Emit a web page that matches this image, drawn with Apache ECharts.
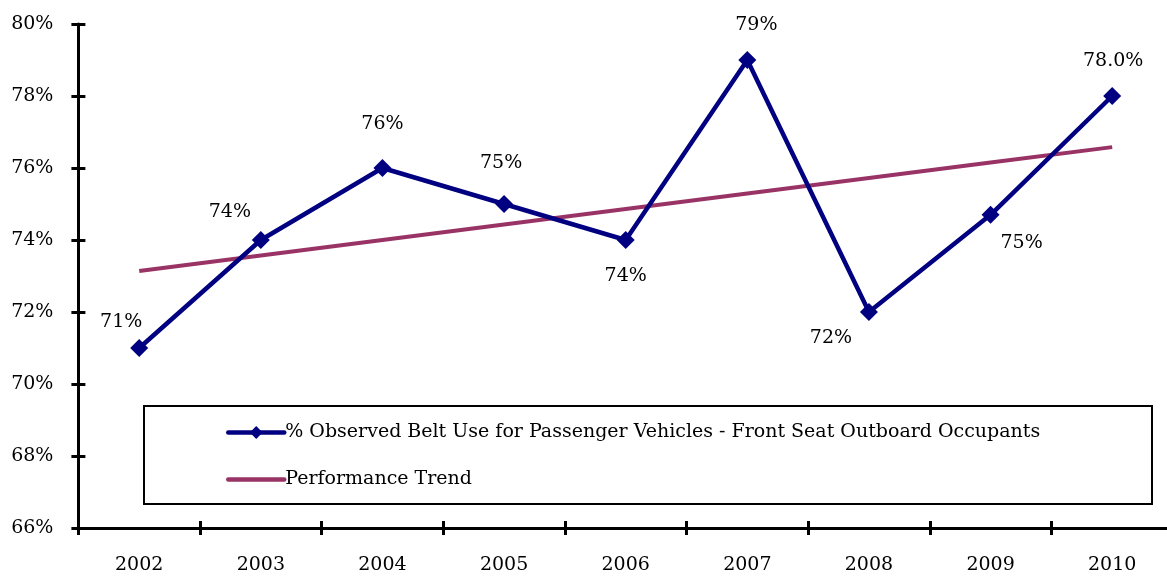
<!DOCTYPE html>
<html>
<head>
<meta charset="utf-8">
<script src="https://cdn.jsdelivr.net/npm/echarts@6/dist/echarts.min.js"></script>
<style>
  html, body { margin: 0; padding: 0; background: #fff; overflow: hidden; }
  #chart { width: 1173px; height: 576px; }
</style>
</head>
<body>
<div id="chart"></div>
<script>
// 年份
const years = ["2002", "2003", "2004", "2005", "2006", "2007", "2008", "2009", "2010"];
// 观测安全带使用率
const beltUse = [71, 74, 76, 75, 74, 79, 72, 74.7, 78];
// 趋势线
const trend = [73.14, 73.57, 74.0, 74.43, 74.86, 75.29, 75.72, 76.15, 76.58];
// y轴刻度
const yMin = 66, yMax = 80, yStep = 2;

const seriesName1 = "% Observed Belt Use for Passenger Vehicles - Front Seat Outboard Occupants";
const seriesName2 = "Performance Trend";

// 标签偏移（样式）
const labelOffsets = [[-18, -26], [-31, -28], [0, -44], [-3, -41], [0, 36], [9, -35], [-38, 26], [31, 28], [1, -35]];

const font = "'DejaVu Serif', 'Liberation Serif', serif";
const fs = 19;

const chart = echarts.init(document.getElementById("chart"));

const beltData = beltUse.map((v, i) => ({
  value: v,
  label: { offset: labelOffsets[i] }
}));

const option = {
  animation: false,
  backgroundColor: "#fff",
  grid: { left: 78.4, right: 0, top: 24, bottom: 48, containLabel: false },
  graphic: [{
    type: "rect",
    left: 143, top: 405,
    shape: { width: 1008, height: 98 },
    style: { fill: "#fff", stroke: "#000", lineWidth: 2 },
    z: 1
  }],
  legend: {
    orient: "vertical",
    left: 226, top: 423,
    itemGap: 28,
    itemWidth: 56, itemHeight: 16,
    padding: 0,
    textStyle: { fontFamily: font, fontSize: fs, color: "#000", padding: [0, 0, 0, -4] },
    data: [
      { name: seriesName1, lineStyle: { width: 4.5, cap: "round" } },
      { name: seriesName2, lineStyle: { width: 4.5, cap: "round" }, itemStyle: { opacity: 0 } }
    ],
    z: 5
  },
  xAxis: [{
    type: "category",
    data: years,
    boundaryGap: true,
    axisLine: { lineStyle: { color: "#000", width: 3 } },
    axisTick: { show: true, length: 7, lineStyle: { color: "#000", width: 3 } },
    axisLabel: { fontFamily: font, fontSize: fs, color: "#000", margin: 28 },
    splitLine: { show: false }
  }, {
    type: "category",
    data: years,
    position: "bottom",
    boundaryGap: true,
    axisLine: { show: false },
    axisTick: { show: true, inside: true, length: 7, lineStyle: { color: "#000", width: 3 } },
    axisLabel: { show: false }
  }],
  yAxis: [{
    type: "value",
    min: yMin, max: yMax, interval: yStep,
    axisLine: { show: true, lineStyle: { color: "#000", width: 3 } },
    axisTick: { show: true, length: 7, lineStyle: { color: "#000", width: 3 } },
    axisLabel: { fontFamily: font, fontSize: fs, color: "#000", margin: 25, formatter: v => v + "%" },
    splitLine: { show: false }
  }, {
    type: "value",
    position: "left",
    min: yMin, max: yMax, interval: yStep,
    axisLine: { show: false },
    axisTick: { show: true, inside: true, length: 7, lineStyle: { color: "#000", width: 3 } },
    axisLabel: { show: false },
    splitLine: { show: false }
  }],
  series: [{
    name: seriesName1,
    type: "line",
    data: beltData,
    symbol: "diamond",
    symbolSize: 18,
    itemStyle: { color: "#000080" },
    lineStyle: { color: "#000080", width: 4.5 },
    label: {
      show: true,
      position: "inside",
      fontFamily: font, fontSize: fs, color: "#000",
      formatter: p => p.dataIndex === beltUse.length - 1 ? p.value.toFixed(1) + "%" : Math.round(p.value) + "%"
    },
    z: 3
  }, {
    name: seriesName2,
    type: "line",
    data: trend,
    symbol: "none",
    itemStyle: { color: "#993366" },
    lineStyle: { color: "#993366", width: 4 },
    z: 2
  }]
};

chart.setOption(option);
</script>
</body>
</html>
